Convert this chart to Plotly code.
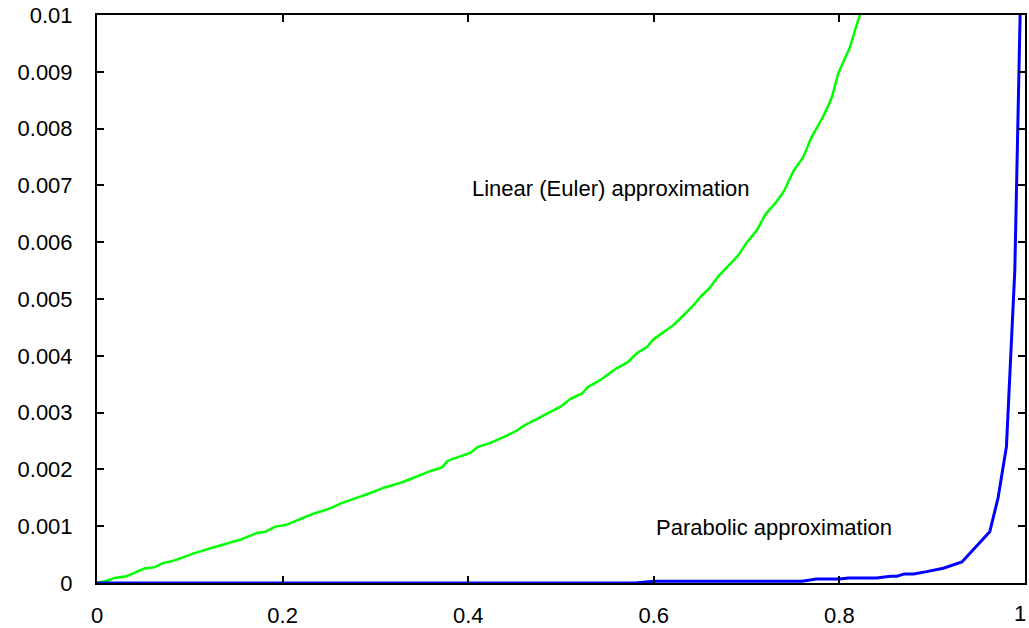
import plotly.graph_objects as go

# Linear (Euler) approximation error
euler_x = [0.0, 0.011, 0.019, 0.032, 0.052, 0.0625, 0.071, 0.082, 0.106, 0.124, 0.145, 0.156,
           0.172, 0.181, 0.192, 0.203, 0.221, 0.235, 0.249, 0.264, 0.294, 0.308, 0.33, 0.359,
           0.372, 0.378, 0.402, 0.411, 0.421, 0.442, 0.452, 0.461, 0.499, 0.51, 0.523, 0.529,
           0.542, 0.56, 0.572, 0.582, 0.593, 0.599, 0.621, 0.641, 0.65, 0.661, 0.669, 0.691,
           0.7, 0.711, 0.72, 0.731, 0.741, 0.75, 0.761, 0.77, 0.782, 0.792, 0.799, 0.811,
           0.817, 0.822, 0.826]
euler_y = [0.0, 0.00004, 0.00009, 0.00012, 0.00026, 0.00028, 0.00035, 0.00039, 0.00053, 0.00062,
           0.00072, 0.00077, 0.00088, 0.0009, 0.00099, 0.00102, 0.00114, 0.00123, 0.0013, 0.00141,
           0.00158, 0.00167, 0.00178, 0.00197, 0.00204, 0.00215, 0.00229, 0.0024, 0.00245, 0.0026,
           0.00268, 0.00278, 0.0031, 0.00324, 0.00334, 0.00345, 0.00357, 0.00378, 0.00389, 0.00405,
           0.00416, 0.00428, 0.00454, 0.00486, 0.00503, 0.00521, 0.00539, 0.00577, 0.00599, 0.00621,
           0.00648, 0.00669, 0.00692, 0.00724, 0.0075, 0.00785, 0.0082, 0.00856, 0.00898, 0.00942,
           0.00974, 0.01, 0.0102]

# Parabolic approximation error
para_x = [0.0, 0.58, 0.6, 0.76, 0.775, 0.8, 0.81, 0.84, 0.855, 0.862, 0.87, 0.88, 0.894,
          0.912, 0.932, 0.949, 0.962, 0.971, 0.98, 0.989, 0.995]
para_y = [0.0, 0.0, 0.00003, 0.00003, 0.00007, 0.00007, 0.00009, 0.00009, 0.00012, 0.00012,
          0.00016, 0.00016, 0.0002, 0.00026, 0.00037, 0.00067, 0.0009, 0.0015, 0.0024, 0.0055,
          0.0102]

x_ticks = [0, 0.2, 0.4, 0.6, 0.8, 1]
x_labels = ["0", "0.2", "0.4", "0.6", "0.8", "1"]
y_ticks = [0, 0.001, 0.002, 0.003, 0.004, 0.005, 0.006, 0.007, 0.008, 0.009, 0.01]
y_labels = ["0", "0.001", "0.002", "0.003", "0.004", "0.005", "0.006", "0.007", "0.008", "0.009", "0.01"]

fig = go.Figure()
fig.add_trace(go.Scatter(x=euler_x, y=euler_y, mode="lines",
                         line=dict(color="#00ff00", width=2.5, shape="spline", smoothing=0.3),
                         showlegend=False, hoverinfo="skip"))
fig.add_trace(go.Scatter(x=para_x, y=para_y, mode="lines",
                         line=dict(color="#0000ff", width=3),
                         showlegend=False, hoverinfo="skip"))

font = dict(family="Liberation Sans, Arial, sans-serif", size=22, color="black")

fig.add_annotation(x=0.402, y=0.00695, text="Linear (Euler) approximation", showarrow=False,
                   xanchor="left", yanchor="middle", font=font)
fig.add_annotation(x=0.6, y=0.00097, text="Parabolic approximation", showarrow=False,
                   xanchor="left", yanchor="middle", font=font)
# last x tick label, kept right-aligned so it stays inside the page
fig.add_annotation(x=x_ticks[-1], y=0, yref="paper", text=x_labels[-1], showarrow=False,
                   xanchor="right", yanchor="top", yshift=-17, xshift=2, borderpad=0, font=font)

axis_common = dict(showgrid=False, zeroline=False, showline=True, linecolor="black", linewidth=2,
                   mirror="ticks", ticks="inside", ticklen=7, tickwidth=2, tickcolor="black",
                   tickfont=font, automargin=False)
fig.update_xaxes(range=[0, 1], tickvals=x_ticks, ticktext=x_labels[:-1] + [""],
                 ticklabelstandoff=12, **axis_common)
fig.update_yaxes(range=[0, 0.01], tickvals=y_ticks, ticktext=y_labels, ticklabelstandoff=18, **axis_common)

fig.update_layout(width=1029, height=628, margin=dict(l=97, r=4, t=15, b=45),
                  paper_bgcolor="white", plot_bgcolor="white", font=font)

fig.write_html("out.html")
